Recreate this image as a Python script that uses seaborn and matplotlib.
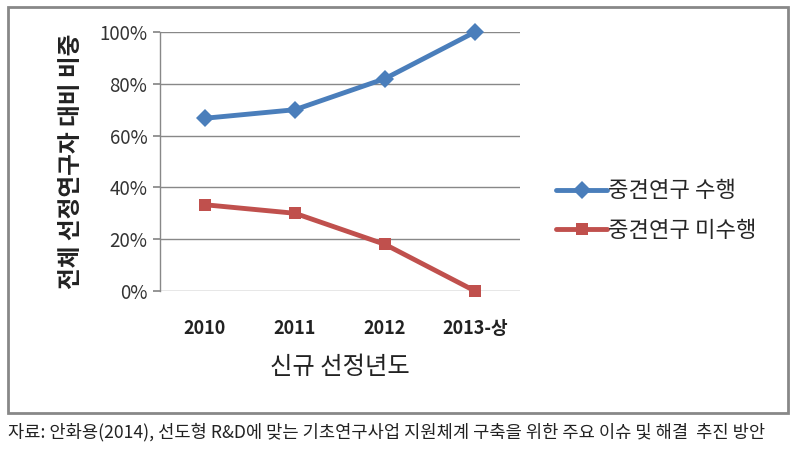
import matplotlib
matplotlib.use("Agg")
import matplotlib.pyplot as plt
import seaborn as sns
import pandas as pd
from matplotlib.patches import Rectangle

years = ["2010", "2011", "2012", "2013-상"]
performed = [66.7, 70.0, 82.0, 100.0]
not_performed = [33.3, 30.0, 18.0, 0.0]
series_names = ["중견연구 수행", "중견연구 미수행"]
yticks = [0, 20, 40, 60, 80, 100]

sns.set_theme(style="white")
plt.rcParams['font.family'] = ['Noto Sans CJK KR', 'DejaVu Sans']

df = pd.DataFrame({
    "year": years * 2,
    "value": performed + not_performed,
    "series": [series_names[0]] * 4 + [series_names[1]] * 4,
})

fig = plt.figure(figsize=(7.96, 4.51), dpi=100)
ax = fig.add_axes([160/796, 1-291/451, 360/796, 259/451])

colors = {series_names[0]: "#4A7EBB", series_names[1]: "#C0504D"}
sns.lineplot(data=df, x="year", y="value", hue="series", style="series",
             markers={series_names[0]: "D", series_names[1]: "s"}, dashes=False,
             palette=colors, linewidth=3.5, markersize=9, markeredgewidth=0,
             ax=ax, sort=False)
for ln in ax.lines:
    ln.set_clip_on(False)

ax.set_xlim(-0.5, 3.5)
ax.set_ylim(0, 100)
ax.set_yticks(yticks)
ax.set_yticklabels([f"{v}%" for v in yticks], fontsize=13.5, color="#333333")
ax.yaxis.grid(True, color="#888888", linewidth=1)
ax.set_axisbelow(True)
for s in ["top", "right", "bottom"]:
    ax.spines[s].set_visible(False)
ax.spines["left"].set_color("#888888")
ax.spines["left"].set_linewidth(1)
ax.tick_params(axis="y", left=True, length=5, color="#888888", pad=4)
ax.tick_params(axis="x", bottom=False, pad=14)
for lbl in ax.get_xticklabels():
    lbl.set_fontweight("bold")
    lbl.set_fontsize(13)
    lbl.set_color("#222222")
ax.set_xlabel("신규 선정년도", fontsize=17.5, labelpad=12, color="#222222")
ax.set_ylabel("전체 선정연구자 대비 비중", fontsize=17, fontweight="bold", labelpad=12, color="#222222")

leg = ax.legend(loc="center left", bbox_to_anchor=(1.045, 0.31),
                frameon=False, fontsize=16, handlelength=2.3, handletextpad=0.05,
                labelspacing=0.75)
for line in leg.get_lines():
    line.set_linewidth(3.5)

fig.patches.append(Rectangle((8/796, 1-413/451), 780/796, 406/451, transform=fig.transFigure,
                             fill=False, edgecolor="#888888", linewidth=2))
fig.text(8/796, 1-432/451, "자료: 안화용(2014), 선도형 R&D에 맞는 기초연구사업 지원체계 구축을 위한 주요 이슈 및 해결  추진 방안",
         fontsize=12.7, va="center", ha="left", color="#222222")

fig.savefig("out.png", dpi=100)
